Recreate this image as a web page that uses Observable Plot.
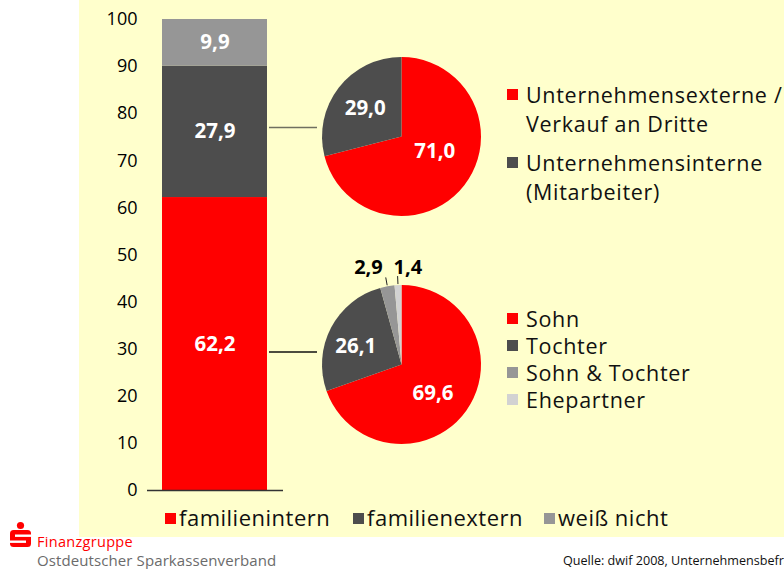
<!DOCTYPE html>
<html><head><meta charset="utf-8">
<script src="https://cdn.jsdelivr.net/npm/d3@7"></script>
<script src="https://cdn.jsdelivr.net/npm/@observablehq/plot@0.6"></script>
<style>
html,body{margin:0;padding:0;background:#fff;}
#wrap{position:relative;width:784px;height:569px;overflow:hidden;background:#fff;}
#bg{position:absolute;left:79px;top:0;width:705px;height:537px;background:#ffffcc;}
#chart{position:absolute;left:0;top:0;}
</style></head>
<body><div id="wrap"><div id="bg"></div><div id="chart"></div></div>
<script>
// ---- data ----
const barCategories = ["familienintern", "familienextern", "weiß nicht"];
const barValues = [62.2, 27.9, 9.9];
const barColors = ["#ff0000", "#4d4d4d", "#969696"];
const yTicks = [0, 10, 20, 30, 40, 50, 60, 70, 80, 90, 100];

const pie1Categories = ["Unternehmensexterne /\nVerkauf an Dritte", "Unternehmensinterne\n(Mitarbeiter)"];
const pie1Values = [71.0, 29.0];
const pie1Colors = ["#ff0000", "#4d4d4d"];

const pie2Categories = ["Sohn", "Tochter", "Sohn & Tochter", "Ehepartner"];
const pie2Values = [69.6, 26.1, 2.9, 1.4];
const pie2Colors = ["#ff0000", "#4d4d4d", "#969696", "#d2d2d2"];

const logoTitle = "Finanzgruppe";
const logoSubtitle = "Ostdeutscher Sparkassenverband";
const sourceNote = "Quelle: dwif 2008, Unternehmensbefragung";

// ---- helpers ----
const FONT = "'Open Sans', 'Noto Sans', sans-serif";
const fmt = v => d3.format(".1f")(v).replace(".", ",");
const BAR = "Anteil";
const barData = barCategories.map((c, i) => ({category: c, value: barValues[i], label: fmt(barValues[i])}));

function barRightEdge(scales) {
  const sx = scales && scales.x;
  if (!sx) return 267;
  const bw = typeof sx.bandwidth === "function" ? sx.bandwidth() : (sx.bandwidth || 0);
  return sx(BAR) + bw;
}

function pieMark(values, colors, L) {
  return (index, scales) => {
    const g = d3.create("svg:g").attr("font-family", FONT);
    const x0 = barRightEdge(scales);
    g.append("line")
      .attr("x1", x0 + 2).attr("x2", L.cx - L.r - 5)
      .attr("y1", L.lineY).attr("y2", L.lineY)
      .attr("stroke", L.lineColor).attr("stroke-width", 1.3);
    const arcs = d3.pie().sort(null).value(d => d)(values);
    const arc = d3.arc().innerRadius(0).outerRadius(L.r);
    const pg = g.append("g").attr("transform", `translate(${L.cx},${L.cy})`);
    pg.selectAll("path").data(arcs).join("path")
      .attr("d", arc).attr("fill", (d, i) => colors[i]);
    arcs.forEach((a, i) => {
      const mid = (a.startAngle + a.endAngle) / 2;
      const s = Math.sin(mid), c = -Math.cos(mid);
      const off = L.labelOffsets[i] || [0, 0, "middle"];
      if (a.value >= 5) {
        pg.append("text")
          .attr("x", s * L.labelR + off[0]).attr("y", c * L.labelR + off[1])
          .attr("dy", "0.35em").attr("text-anchor", "middle")
          .attr("fill", "#fff").attr("font-weight", "bold").attr("font-size", 20.5)
          .text(fmt(a.value));
      } else {
        const r2 = L.r + 9;
        pg.append("line")
          .attr("x1", s * (L.r + 1)).attr("y1", c * (L.r + 1))
          .attr("x2", s * r2).attr("y2", c * r2)
          .attr("stroke", "#222").attr("stroke-width", 1);
        pg.append("text")
          .attr("x", s * r2 + off[0]).attr("y", c * r2 + off[1])
          .attr("text-anchor", off[2])
          .attr("fill", "#000").attr("font-weight", "bold").attr("font-size", 20)
          .text(fmt(a.value));
      }
    });
    return g.node();
  };
}

function legendMark(items, colors, L) {
  return () => {
    const g = d3.create("svg:g").attr("font-family", FONT).attr("font-size", L.fontSize)
      .attr("letter-spacing", L.spacing).attr("text-anchor", "start").attr("fill", "#111");
    let y = L.y0;
    items.forEach((label, i) => {
      const lines = label.split("\n");
      g.append("rect").attr("x", L.x).attr("y", y - 14).attr("width", 11).attr("height", 11).attr("fill", colors[i]);
      lines.forEach((ln, j) => {
        g.append("text").attr("x", L.x + 19).attr("y", y + j * L.lineStep).text(ln);
      });
      y += lines.length * L.lineStep + L.gap;
    });
    return g.node();
  };
}

function bottomLegendMark() {
  return () => {
    const g = d3.create("svg:g").attr("font-family", FONT).attr("font-size", 22)
      .attr("letter-spacing", 0.5).attr("text-anchor", "start").attr("fill", "#111");
    const xs = [165, 353, 544];
    barCategories.forEach((c, i) => {
      g.append("rect").attr("x", xs[i]).attr("y", 513).attr("width", 11).attr("height", 11).attr("fill", barColors[i]);
      g.append("text").attr("x", xs[i] + 14).attr("y", 526).text(c);
    });
    return g.node();
  };
}

function footerMark() {
  return () => {
    const g = d3.create("svg:g").attr("font-family", FONT).attr("text-anchor", "start");
    // Sparkasse logo
    g.append("circle").attr("cx", 20.5).attr("cy", 525.5).attr("r", 3.6).attr("fill", "#ff0000");
    g.append("rect").attr("x", 10).attr("y", 530).attr("width", 21).attr("height", 17).attr("rx", 3.5).attr("fill", "#ff0000");
    g.append("rect").attr("x", 15).attr("y", 534.5).attr("width", 16).attr("height", 2.4).attr("fill", "#fff");
    g.append("rect").attr("x", 10).attr("y", 540.5).attr("width", 16).attr("height", 2.4).attr("fill", "#fff");
    g.append("text").attr("x", 37).attr("y", 547).attr("font-size", 14.5).attr("letter-spacing", 0.3).attr("fill", "#ff0000").text(logoTitle);
    g.append("text").attr("x", 37).attr("y", 566).attr("font-size", 15).attr("letter-spacing", 0.1).attr("fill", "#6b6b6b").text(logoSubtitle);
    g.append("text").attr("x", 563).attr("y", 565).attr("font-size", 12.6).attr("fill", "#111").text(sourceNote);
    return g.node();
  };
}

const plot = Plot.plot({
  width: 784,
  height: 569,
  marginTop: 19,
  marginBottom: 79,
  marginLeft: 147,
  marginRight: 501,
  style: {background: "transparent", fontFamily: FONT, fontSize: "18px", color: "#000", overflow: "hidden"},
  x: {type: "band", domain: [BAR], range: [162, 267], padding: 0, axis: null},
  y: {domain: [0, 100], range: [490, 19], ticks: yTicks, tickSize: 0, tickPadding: 10, label: null, tickFormat: d => String(d)},
  color: {domain: barCategories, range: barColors},
  marks: [
    Plot.barY(barData, {x: () => BAR, y: "value", fill: "category"}),
    Plot.ruleY([0], {stroke: "#333", strokeWidth: 1.3}),
    Plot.text(barData, Plot.stackY({x: () => BAR, y: "value", text: "label", fill: "white", fontWeight: "bold", fontSize: 20.5})),
    pieMark(pie1Values, pie1Colors, {cx: 401.5, cy: 136.5, r: 79.5, lineY: 127.5, lineColor: "#707060", labelR: 46,
      labelOffsets: [[-3, -14], [0, 0]]}),
    pieMark(pie2Values, pie2Colors, {cx: 401.5, cy: 364.5, r: 79.5, lineY: 352, lineColor: "#111", labelR: 46,
      labelOffsets: [[-6, 2], [-5, 3], [-3, -3, "end"], [-4, -2, "start"]]}),
    legendMark(pie1Categories, pie1Colors, {x: 507, y0: 103, lineStep: 28.5, gap: 11, fontSize: 21.5, spacing: 0.7}),
    legendMark(pie2Categories, pie2Colors, {x: 507, y0: 327, lineStep: 27, gap: 0, fontSize: 21.5, spacing: 0.7}),
    bottomLegendMark(),
    footerMark()
  ]
});
document.getElementById("chart").appendChild(plot);
</script>
</body></html>
